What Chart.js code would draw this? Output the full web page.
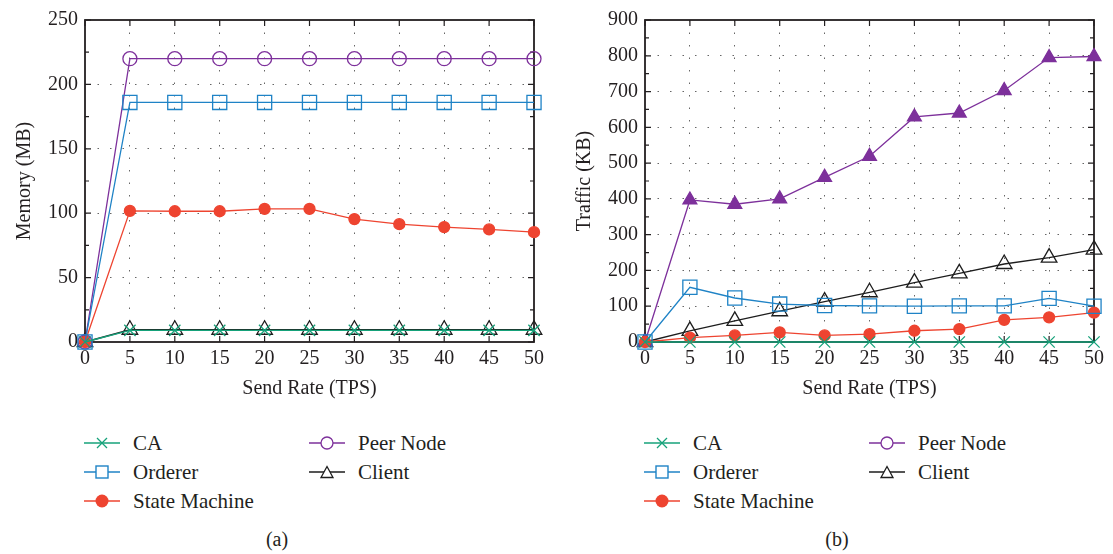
<!DOCTYPE html>
<html>
<head>
<meta charset="utf-8">
<script src="https://cdn.jsdelivr.net/npm/chart.js@4.4.1/dist/chart.umd.min.js"></script>
<style>
  html, body { margin: 0; padding: 0; background: #fff; }
  body { width: 1113px; height: 554px; position: relative; overflow: hidden;
         font-family: "Liberation Serif", "Times New Roman", serif; color: #231f20; }
  canvas { position: absolute; top: 0; }
  .item { position: absolute; height: 24px; display: flex; align-items: center;
          font-family: "Liberation Serif", serif; font-size: 21px; white-space: nowrap; }
  .item span { font-family: "Liberation Serif", serif; }
  .item svg { margin-right: 13px; }
  .cap { position: absolute; top: 528px; font-family: "Liberation Serif", serif; font-size: 20px; transform: translateX(-50%); }
</style>
</head>
<body>
<canvas id="memChart" width="556" height="412" style="left:0"></canvas>
<canvas id="trafficChart" width="553" height="412" style="left:560px"></canvas>
<div id="legends"></div>
<div class="cap" style="left:277px">(a)</div>
<div class="cap" style="left:837px">(b)</div>

<script>
// send rate (TPS) on the x axis
const sendRate = [0, 5, 10, 15, 20, 25, 30, 35, 40, 45, 50];
const seriesNames = ['CA', 'Orderer', 'State Machine', 'Peer Node', 'Client'];

// (a) memory in MB
const memCA      = [0, 9, 9, 9, 9, 9, 9, 9, 9, 9, 9];
const memOrderer = [0, 186, 186, 186, 186, 186, 186, 186, 186, 186, 186];
const memState   = [0, 101.8, 101.5, 101.5, 103.3, 103.3, 95.4, 91.5, 89.2, 87.4, 85.3];
const memPeer    = [0, 220, 220, 220, 220, 220, 220, 220, 220, 220, 220];
const memClient  = [0, 9.5, 9.5, 9.5, 9.5, 9.5, 9.5, 9.5, 9.5, 9.5, 9.5];

// (b) traffic in KB
const trCA      = [0, 0, 0, 0, 0, 0, 0, 0, 0, 0, 0];
const trOrderer = [0, 153, 123, 106, 102, 101, 100, 101, 101, 122, 100];
const trState   = [0, 12, 18.5, 27, 18.5, 22, 31.5, 36, 62, 69, 82];
const trPeer    = [0, 397, 385, 400, 460, 519, 629, 640, 703, 795, 798];
const trClient  = [0, 31, 59, 86, 113, 139, 166, 192, 218, 236, 258];

const GREEN = '#16a27a', BLUE = '#1f83c6', RED = '#ee4430', PURPLE = '#7d309b', BLACK = '#1d1d1d';

function line(label, values, color, style, radius, filled) {
  return {
    label: label,
    data: sendRate.map((x, i) => ({ x: x, y: values[i] })),
    borderColor: color,
    borderWidth: 1.3,
    pointStyle: style,
    pointRadius: radius,
    pointHoverRadius: radius,
    pointBorderColor: color,
    pointBorderWidth: 1.3,
    pointBackgroundColor: filled ? color : 'rgba(0,0,0,0)',
    tension: 0,
    clip: false
  };
}

// inward ticks on all four sides plus the box
const frame = {
  id: 'frame',
  beforeDatasetsDraw(chart, args, opts) {
    const { ctx, chartArea: a, scales: { x, y } } = chart;
    ctx.save();
    ctx.strokeStyle = '#231f20';
    ctx.lineWidth = 1.2;
    ctx.beginPath();
    y.ticks.forEach((t, i) => {
      const p = y.getPixelForTick(i);
      const len = t.value % opts.yMajor === 0 ? 6 : 4;
      ctx.moveTo(a.left, p); ctx.lineTo(a.left + len, p);
      ctx.moveTo(a.right, p); ctx.lineTo(a.right - len, p);
    });
    x.ticks.forEach((t, i) => {
      const p = x.getPixelForTick(i);
      ctx.moveTo(p, a.bottom); ctx.lineTo(p, a.bottom - 6);
      ctx.moveTo(p, a.top); ctx.lineTo(p, a.top + 6);
    });
    ctx.stroke();
    ctx.lineWidth = 1.8;
    ctx.strokeRect(a.left, a.top, a.right - a.left, a.bottom - a.top);
    ctx.restore();
  }
};

const font = { family: '"Liberation Serif", "Times New Roman", serif', size: 20 };

function makeChart(id, datasets, yMax, yStep, yMajor, yTitle, padRight) {
  return new Chart(document.getElementById(id), {
    type: 'line',
    data: { datasets: datasets },
    plugins: [frame],
    options: {
      responsive: false,
      animation: false,
      events: [],
      layout: { padding: { left: 0, right: padRight, top: 20, bottom: 0 } },
      plugins: { legend: { display: false }, tooltip: { enabled: false }, frame: { yMajor: yMajor } },
      scales: {
        x: {
          type: 'linear', min: 0, max: 50,
          afterFit: s => { s.height = 70; },
          ticks: { stepSize: 5, autoSkip: false, maxRotation: 0, padding: 5, color: '#231f20', font: font },
          grid: {
            drawTicks: false, lineWidth: 1,
            color: c => (c.tick.value > 0 && c.tick.value < 50) ? '#666' : 'rgba(0,0,0,0)'
          },
          border: { display: false, dash: [1.5, 11] },
          title: { display: true, text: 'Send Rate (TPS)', color: '#231f20', font: font, padding: { top: 0, bottom: 11 } }
        },
        y: {
          min: 0, max: yMax,
          afterFit: s => { s.width = 85; },
          ticks: {
            stepSize: yStep, autoSkip: false, padding: 7, color: '#231f20', font: font,
            callback: v => (v % yMajor === 0 ? v : '')
          },
          grid: {
            drawTicks: false, lineWidth: 1,
            color: c => (c.tick.value % yMajor === 0 && c.tick.value > 0 && c.tick.value < yMax) ? '#666' : 'rgba(0,0,0,0)'
          },
          border: { display: false, dash: [1.5, 11] },
          title: { display: true, text: yTitle, color: '#231f20', font: font, padding: { top: 13, bottom: 0 } }
        }
      }
    }
  });
}

makeChart('memChart', [
  line(seriesNames[0], memCA, GREEN, 'crossRot', 8, false),
  line(seriesNames[1], memOrderer, BLUE, 'rect', 10, false),
  line(seriesNames[2], memState, RED, 'circle', 5.5, true),
  line(seriesNames[3], memPeer, PURPLE, 'circle', 7, false),
  line(seriesNames[4], memClient, BLACK, 'triangle', 9, false)
], 250, 25, 50, 'Memory (MB)', 22);

makeChart('trafficChart', [
  line(seriesNames[0], trCA, GREEN, 'crossRot', 8, false),
  line(seriesNames[1], trOrderer, BLUE, 'rect', 10, false),
  line(seriesNames[2], trState, RED, 'circle', 5.5, true),
  line(seriesNames[3], trPeer, PURPLE, 'triangle', 8, true),
  line(seriesNames[4], trClient, BLACK, 'triangle', 9, false)
], 900, 50, 100, 'Traffic (KB)', 19);

// legend: line with marker, as in the figure
function markerSvg(kind, color) {
  let m = '';
  if (kind === 'cross') m = `<path d="M13 2 L23 12 M23 2 L13 12" stroke="${color}" stroke-width="1.3" fill="none"/>`;
  if (kind === 'rect') m = `<rect x="12" y="1" width="12" height="12" stroke="${color}" stroke-width="1.4" fill="#fff"/>`;
  if (kind === 'dot') m = `<circle cx="18" cy="7" r="6.5" fill="${color}"/>`;
  if (kind === 'ring') m = `<circle cx="18" cy="7" r="6" stroke="${color}" stroke-width="1.3" fill="#fff"/>`;
  if (kind === 'tri') m = `<path d="M18 1.5 L24 12.5 L12 12.5 Z" stroke="${color}" stroke-width="1.3" fill="#fff"/>`;
  return `<svg width="36" height="14" viewBox="0 0 36 14"><line x1="0" y1="7" x2="36" y2="7" stroke="${color}" stroke-width="1.3"/>${m}</svg>`;
}

const legendKinds = [['cross', GREEN], ['rect', BLUE], ['dot', RED], ['ring', PURPLE], ['tri', BLACK]];
const legendCols = [0, 0, 0, 1, 1];
const legendRows = [0, 1, 2, 0, 1];
const legendBox = document.getElementById('legends');
[[85, 310], [645, 870]].forEach(cols => {
  seriesNames.forEach((name, i) => {
    const d = document.createElement('div');
    d.className = 'item';
    d.style.left = (cols[legendCols[i]] - 1) + 'px';
    d.style.top = (431 + legendRows[i] * 29) + 'px';
    d.innerHTML = markerSvg(legendKinds[i][0], legendKinds[i][1]) + '<span>' + name + '</span>';
    legendBox.appendChild(d);
  });
});
</script>
</body>
</html>
